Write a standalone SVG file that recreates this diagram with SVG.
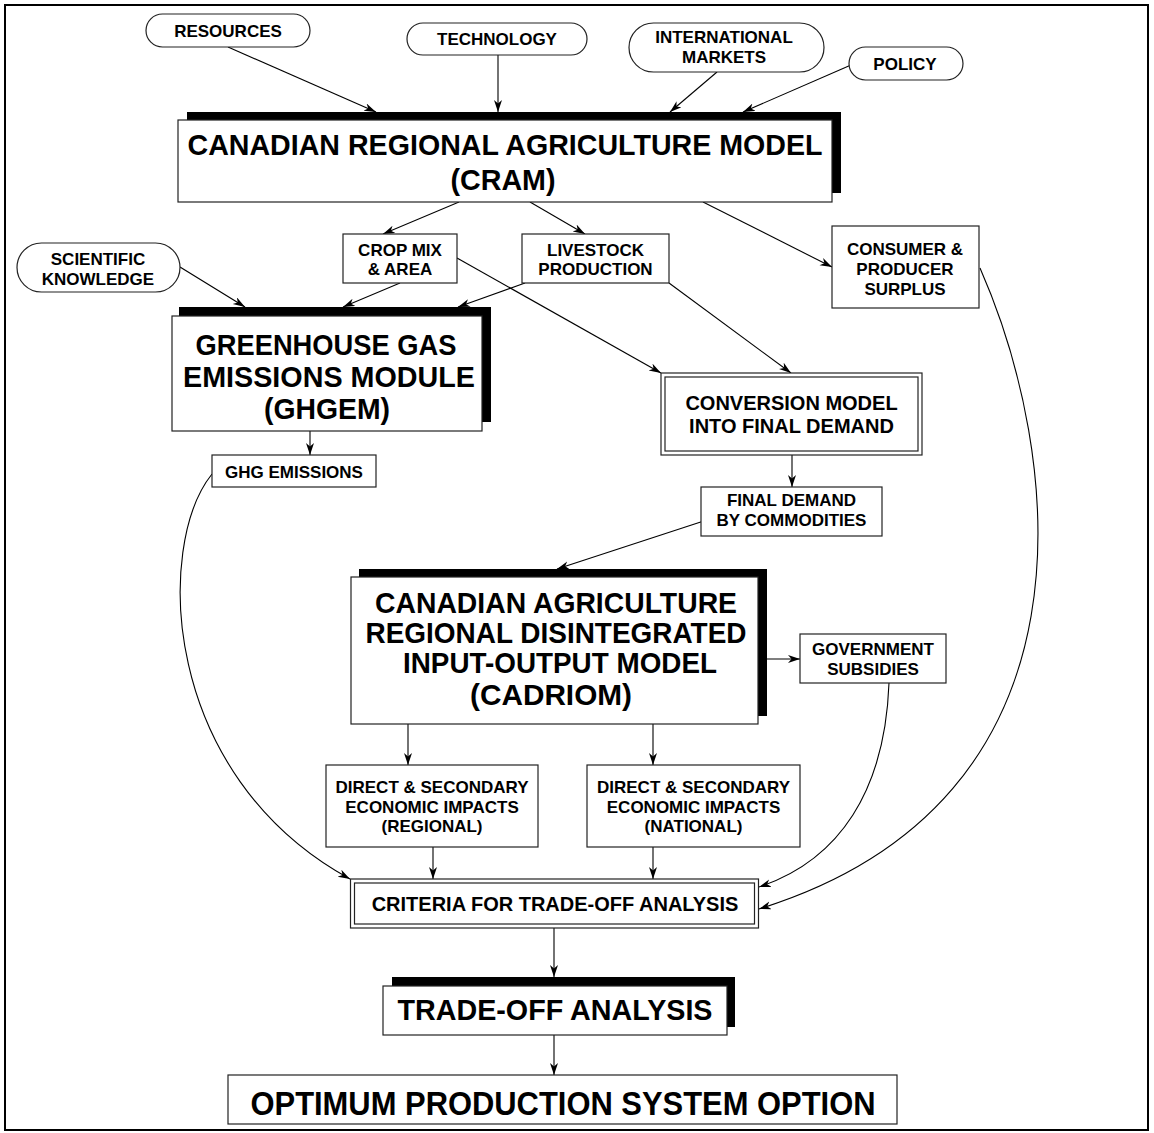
<svg xmlns="http://www.w3.org/2000/svg" width="1154" height="1133" viewBox="0 0 1154 1133">
<defs>
<marker id="arr" markerUnits="userSpaceOnUse" markerWidth="13" markerHeight="9" refX="12" refY="4" orient="auto">
<path d="M0,0 L12,4 L0,8 L3.5,4 z" fill="#000"/>
</marker>
<style>
.bx{fill:#fff;stroke:#222;stroke-width:1.2}
.sh{fill:#000}
.ov{fill:#fff;stroke:#222;stroke-width:1.2}
.s{font-family:"Liberation Sans",Arial,sans-serif;font-weight:bold;font-size:17px;text-anchor:middle;fill:#000}
.m{font-family:"Liberation Sans",Arial,sans-serif;font-weight:bold;font-size:20px;text-anchor:middle;fill:#000}
.b{font-family:"Liberation Sans",Arial,sans-serif;font-weight:bold;font-size:30px;text-anchor:middle;fill:#000}
.c{fill:none;stroke:#000;stroke-width:1.1;marker-end:url(#arr)}
</style>
</defs>
<rect x="0" y="0" width="1154" height="1133" fill="#fff"/>
<rect x="5" y="5" width="1143" height="1125" fill="none" stroke="#000" stroke-width="2"/>

<g id="connectors">
<path class="c" d="M228,47 L376,112"/>
<path class="c" d="M498,55 L498,112"/>
<path class="c" d="M717,72 L670,112"/>
<path class="c" d="M851,65 L743,112"/>
<path class="c" d="M459,202 L383,234"/>
<path class="c" d="M530,202 L585,234"/>
<path class="c" d="M703,202 L832,267"/>
<path class="c" d="M180,267 L245,307"/>
<path class="c" d="M400,283 L343,307"/>
<path class="c" d="M525,283 L458,307"/>
<path class="c" d="M457,258 L661,373"/>
<path class="c" d="M669,283 L791,373"/>
<path class="c" d="M310,431 L310,455"/>
<path class="c" d="M792,455 L792,487"/>
<path class="c" d="M716,517 L557,569"/>
<path class="c" d="M767,659 L800,659"/>
<path class="c" d="M408,724 L408,765"/>
<path class="c" d="M653,724 L653,765"/>
<path class="c" d="M433,847 L433,879"/>
<path class="c" d="M653,847 L653,879"/>
<path class="c" d="M212,474 C155,545 160,775 350,879"/>
<path class="c" d="M889,683 C885,790 840,860 759,887"/>
<path class="c" d="M980,268 C1060,450 1110,800 759,909"/>
<path class="c" d="M554,928 L554,977"/>
<path class="c" d="M554,1035 L554,1075"/>
</g>

<g id="resources">
<rect class="ov" x="146" y="14" width="164" height="33" rx="16.5"/>
<text class="s" x="228" y="37">RESOURCES</text>
</g>
<g id="technology">
<rect class="ov" x="407" y="23" width="180" height="32" rx="16"/>
<text class="s" x="497" y="45">TECHNOLOGY</text>
</g>
<g id="international-markets">
<rect class="ov" x="629" y="23" width="195" height="49" rx="24.5"/>
<text class="s" x="724" y="43">INTERNATIONAL</text>
<text class="s" x="724" y="63">MARKETS</text>
</g>
<g id="policy">
<rect class="ov" x="849" y="47" width="114" height="33" rx="16.5"/>
<text class="s" x="905" y="70">POLICY</text>
</g>

<g id="cram">
<rect class="sh" x="187" y="112" width="654" height="81"/>
<rect class="bx" x="178" y="120" width="654" height="82"/>
<text class="b" x="505" y="155" textLength="635" lengthAdjust="spacingAndGlyphs">CANADIAN REGIONAL AGRICULTURE MODEL</text>
<text class="b" x="503" y="190" textLength="105" lengthAdjust="spacingAndGlyphs">(CRAM)</text>
</g>

<g id="crop-mix">
<rect class="bx" x="343" y="234" width="114" height="49"/>
<text class="s" x="400" y="256">CROP MIX</text>
<text class="s" x="400" y="275">&amp; AREA</text>
</g>
<g id="livestock">
<rect class="bx" x="522" y="234" width="147" height="49"/>
<text class="s" x="595.5" y="256">LIVESTOCK</text>
<text class="s" x="595.5" y="275">PRODUCTION</text>
</g>
<g id="consumer-producer-surplus">
<rect class="bx" x="832" y="226" width="147" height="82"/>
<text class="s" x="905" y="255">CONSUMER &amp;</text>
<text class="s" x="905" y="275">PRODUCER</text>
<text class="s" x="905" y="295">SURPLUS</text>
</g>
<g id="scientific-knowledge">
<rect class="ov" x="17" y="243" width="163" height="49" rx="24.5"/>
<text class="s" x="98" y="265">SCIENTIFIC</text>
<text class="s" x="98" y="285">KNOWLEDGE</text>
</g>

<g id="ghgem">
<rect class="sh" x="179" y="307" width="312" height="115"/>
<rect class="bx" x="172" y="316" width="310" height="115"/>
<text class="b" x="326" y="355" textLength="261" lengthAdjust="spacingAndGlyphs">GREENHOUSE GAS</text>
<text class="b" x="329" y="387" textLength="292" lengthAdjust="spacingAndGlyphs">EMISSIONS MODULE</text>
<text class="b" x="327" y="419" textLength="126" lengthAdjust="spacingAndGlyphs">(GHGEM)</text>
</g>
<g id="ghg-emissions">
<rect class="bx" x="212" y="455" width="164" height="32"/>
<text class="s" x="294" y="478">GHG EMISSIONS</text>
</g>

<g id="conversion-model">
<rect class="bx" x="661" y="373" width="261" height="82"/>
<rect class="bx" x="665" y="377" width="253" height="74"/>
<text class="m" x="791.5" y="410">CONVERSION MODEL</text>
<text class="m" x="791.5" y="433">INTO FINAL DEMAND</text>
</g>
<g id="final-demand">
<rect class="bx" x="701" y="487" width="181" height="49"/>
<text class="s" x="791.5" y="506">FINAL DEMAND</text>
<text class="s" x="791.5" y="526">BY COMMODITIES</text>
</g>

<g id="cadriom">
<rect class="sh" x="359" y="569" width="408" height="147"/>
<rect class="bx" x="351" y="577" width="407" height="147"/>
<text class="b" x="556" y="613" textLength="362" lengthAdjust="spacingAndGlyphs">CANADIAN AGRICULTURE</text>
<text class="b" x="556" y="643" textLength="381" lengthAdjust="spacingAndGlyphs">REGIONAL DISINTEGRATED</text>
<text class="b" x="560" y="673" textLength="314" lengthAdjust="spacingAndGlyphs">INPUT-OUTPUT MODEL</text>
<text class="b" x="551" y="705" textLength="162" lengthAdjust="spacingAndGlyphs">(CADRIOM)</text>
</g>
<g id="government-subsidies">
<rect class="bx" x="800" y="634" width="146" height="49"/>
<text class="s" x="873" y="655">GOVERNMENT</text>
<text class="s" x="873" y="675">SUBSIDIES</text>
</g>

<g id="impacts-regional">
<rect class="bx" x="326" y="765" width="212" height="82"/>
<text class="s" x="432" y="793">DIRECT &amp; SECONDARY</text>
<text class="s" x="432" y="813">ECONOMIC IMPACTS</text>
<text class="s" x="432" y="832">(REGIONAL)</text>
</g>
<g id="impacts-national">
<rect class="bx" x="587" y="765" width="213" height="82"/>
<text class="s" x="693.5" y="793">DIRECT &amp; SECONDARY</text>
<text class="s" x="693.5" y="813">ECONOMIC IMPACTS</text>
<text class="s" x="693.5" y="832">(NATIONAL)</text>
</g>

<g id="criteria">
<rect class="bx" x="350.5" y="879" width="408" height="49"/>
<rect class="bx" x="354.5" y="883" width="400" height="41"/>
<text class="m" x="555" y="911">CRITERIA FOR TRADE-OFF ANALYSIS</text>
</g>

<g id="trade-off-analysis">
<rect class="sh" x="392" y="977" width="343" height="50"/>
<rect class="bx" x="383" y="986" width="344" height="49"/>
<text class="b" x="555" y="1020" textLength="315" lengthAdjust="spacingAndGlyphs">TRADE-OFF ANALYSIS</text>
</g>

<g id="optimum">
<rect class="bx" x="228" y="1075" width="669" height="49"/>
<text class="b" x="563" y="1115" style="font-size:33px" textLength="625" lengthAdjust="spacingAndGlyphs">OPTIMUM PRODUCTION SYSTEM OPTION</text>
</g>
</svg>
